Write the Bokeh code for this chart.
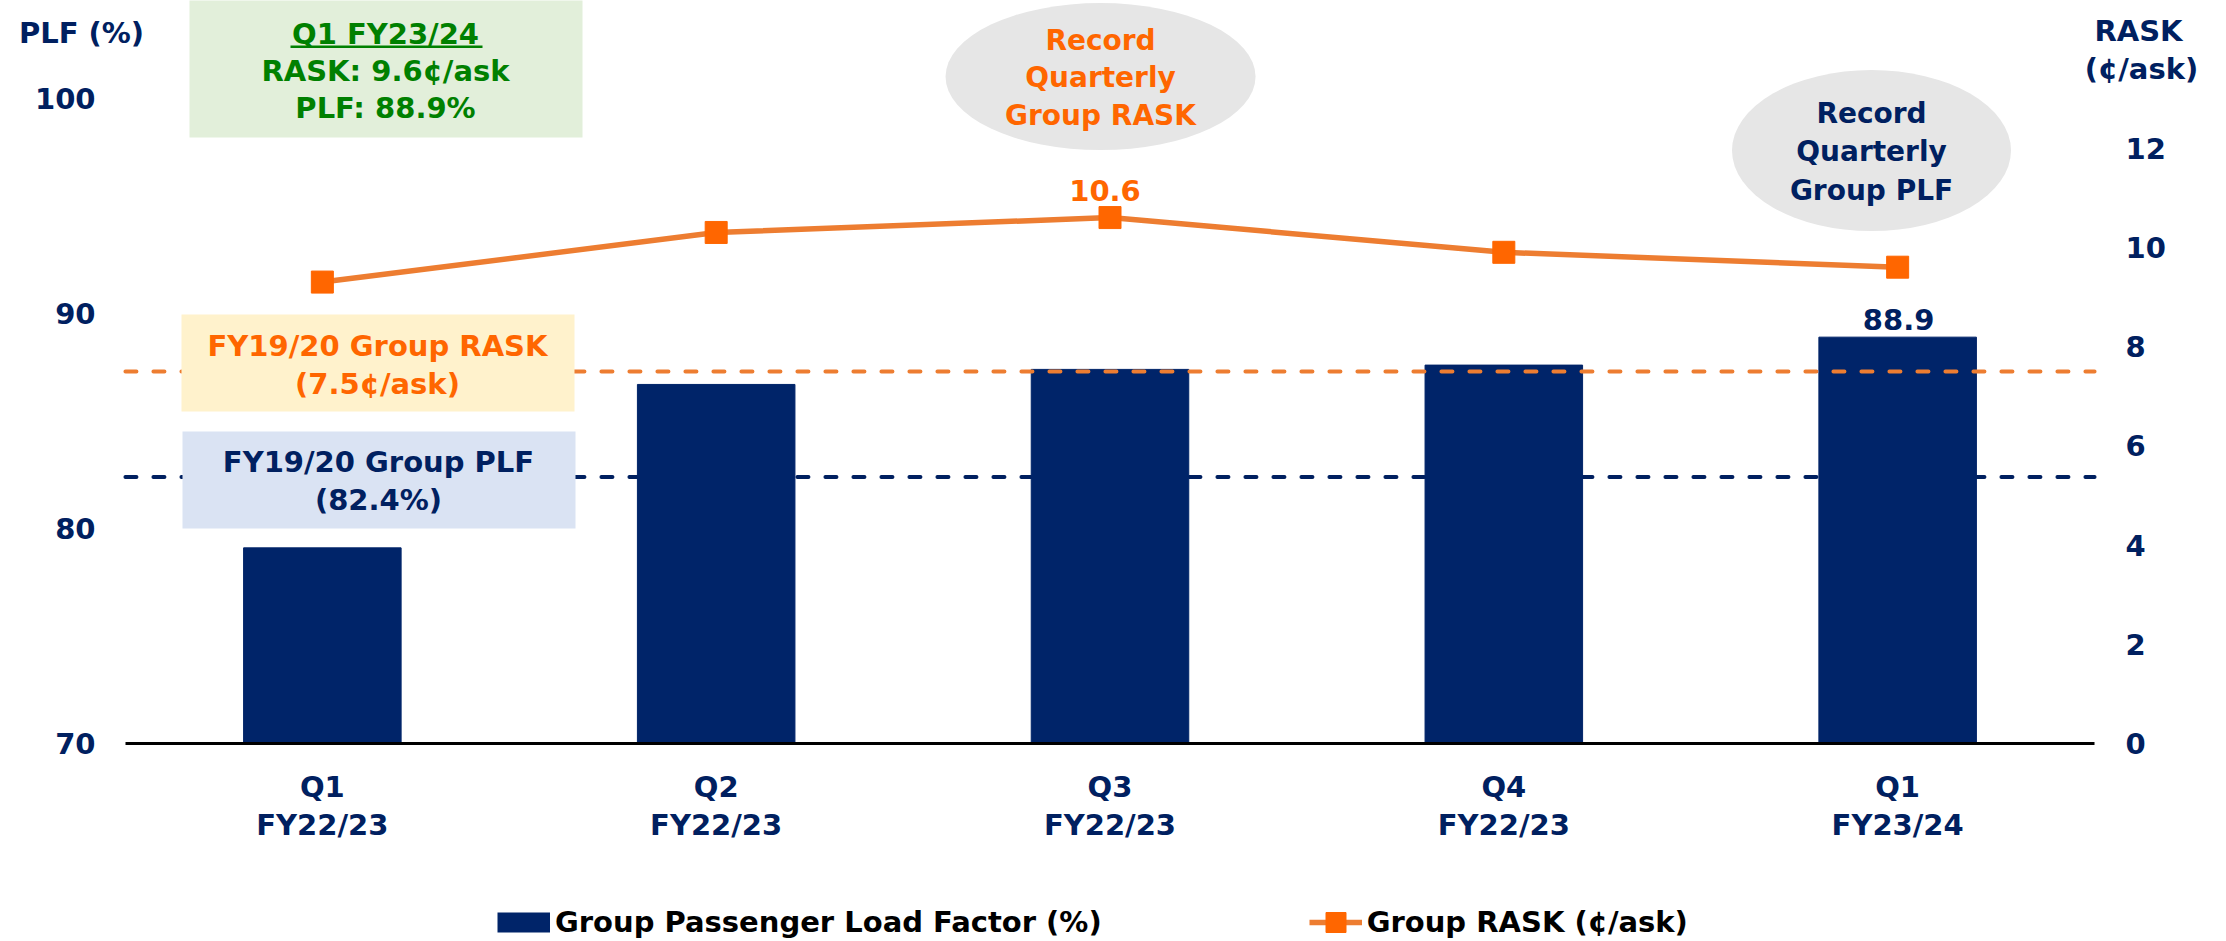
from bokeh.plotting import figure
from bokeh.layouts import column
from bokeh.models import (FactorRange, Range1d, LinearAxis, FixedTicker, Legend, LegendItem,
                          Label, BoxAnnotation, ColumnDataSource)
from bokeh.core.properties import value
from bokeh.embed import file_html
from bokeh.resources import INLINE

# ---------------- data ----------------
categories = ["Q1\nFY22/23", "Q2\nFY22/23", "Q3\nFY22/23", "Q4\nFY22/23", "Q1\nFY23/24"]
plf_values = [79.1, 86.7, 87.4, 87.6, 88.9]
rask_values = [9.3, 10.3, 10.6, 9.9, 9.6]
plf_baseline = 82.4
rask_baseline = 7.5
plf_ticks = [70, 80, 90, 100]
rask_ticks = [0, 2, 4, 6, 8, 10, 12]
plf_series_name = "Group Passenger Load Factor (%)"
rask_series_name = "Group RASK (¢/ask)"

# ---------------- style ----------------
NAVY = "#002469"
NAVY_TXT = "#002060"
ORANGE = "#FF6600"
ORANGE_LINE = "#ED7D31"
GREEN = "#008000"
FONT = "DejaVu Sans"
FS = "29px"

W = 2226
H1, H2 = 850, 91
FRAME_H = 743
px_per_plf = 645 / 30.0
px_per_rask = 645 / 13.0

p = figure(width=W, height=H1, output_backend="svg", toolbar_location=None, title=None,
           x_range=FactorRange(factors=categories, range_padding=0.1269,
                               range_padding_units="percent"),
           y_range=Range1d(70, 70 + FRAME_H / px_per_plf),
           min_border=0, min_border_left=0, min_border_right=7,
           min_border_bottom=H1 - FRAME_H, min_border_top=0)
p.extra_y_ranges = {"rask": Range1d(0, FRAME_H / px_per_rask)}
p.outline_line_color = None
p.xgrid.visible = False
p.ygrid.visible = False
p.background_fill_color = "white"
p.border_fill_color = "white"

# x axis (baseline limited to the category span)
xa = p.xaxis[0]
xa.bounds = (0, len(categories))
xa.axis_line_color = "black"
xa.axis_line_width = 3
xa.major_tick_line_color = None
xa.major_tick_out = 0
xa.major_tick_in = 0
xa.major_label_text_font = FONT
xa.major_label_text_font_style = "bold"
xa.major_label_text_font_size = FS
xa.major_label_text_color = NAVY_TXT
xa.major_label_text_line_height = 1.126
xa.major_label_standoff = 26


def style_y(ax, standoff):
    ax.axis_line_color = None
    ax.major_tick_line_color = None
    ax.minor_tick_line_color = None
    ax.major_tick_out = 0
    ax.major_tick_in = 0
    ax.major_label_text_font = FONT
    ax.major_label_text_font_style = "bold"
    ax.major_label_text_font_size = FS
    ax.major_label_text_color = NAVY_TXT
    ax.major_label_standoff = standoff


ya = p.yaxis[0]
ya.ticker = FixedTicker(ticks=plf_ticks)
style_y(ya, -95)

ra = LinearAxis(y_range_name="rask", ticker=FixedTicker(ticks=rask_ticks))
style_y(ra, -94)
p.add_layout(ra, "right")

n = len(categories)
# FY19/20 PLF reference (dashed, behind the bars)
p.segment(x0=[0], x1=[n], y0=[plf_baseline], y1=[plf_baseline], line_color=NAVY_TXT,
          line_width=4, line_dash="11 17", line_cap="round")

src = ColumnDataSource(dict(x=categories, plf=plf_values, rask=rask_values))
bars = p.vbar(x="x", top="plf", bottom=70, width=0.40, source=src,
              fill_color=NAVY, line_color=NAVY)

# FY19/20 RASK reference (dashed, over the bars)
p.segment(x0=[0], x1=[n], y0=[rask_baseline], y1=[rask_baseline], y_range_name="rask",
          line_color=ORANGE_LINE, line_width=4, line_dash="11 17", line_cap="round")

# RASK line
line_r = p.line(x="x", y="rask", source=src, y_range_name="rask",
                line_color=ORANGE_LINE, line_width=5.5)
mark_r = p.scatter(x="x", y="rask", source=src, y_range_name="rask", marker="square",
                   size=22, fill_color=ORANGE, line_color=ORANGE)

# value labels (Q3 RASK record, latest PLF)
src_r = ColumnDataSource(dict(x=[categories[2]], y=[rask_values[2]], t=[f"{rask_values[2]:.1f}"]))
p.text(x="x", y="y", text="t", source=src_r, y_range_name="rask",
       text_font=value(FONT), text_font_style="bold", text_font_size=FS,
       text_color=ORANGE, text_align="center", text_baseline="middle",
       x_offset=-5, y_offset=-27)
src_p = ColumnDataSource(dict(x=[categories[4]], y=[plf_values[4]], t=[f"{plf_values[4]:.1f}"]))
p.text(x="x", y="y", text="t", source=src_p,
       text_font=value(FONT), text_font_style="bold", text_font_size=FS,
       text_color=NAVY_TXT, text_align="center", text_baseline="middle",
       x_offset=1, y_offset=-18)

# "record" callout ellipses
p.ellipse(x=[2.476], y=[101.02], width=[310], height=[147], width_units="screen",
          height_units="screen", fill_color="#E6E6E6", line_color=None)
p.ellipse(x=[4.4336], y=[97.58], width=[279], height=[161], width_units="screen",
          height_units="screen", fill_color="#E6E6E6", line_color=None)


def lab(text, x, y, color, size=FS):
    p.add_layout(Label(x=x, y=y, x_units="screen", y_units="screen", text=text,
                       text_font=FONT, text_font_style="bold", text_font_size=size,
                       text_color=color, text_align="center", text_baseline="middle"))


def box(l, r, b, t, color):
    p.add_layout(BoxAnnotation(left=l, right=r, bottom=b, top=t, left_units="screen",
                               right_units="screen", bottom_units="screen", top_units="screen",
                               fill_color=color, fill_alpha=1.0, line_color=None))


# FY19/20 reference boxes
box(181, 574, 332, 429, "#FFF2CC")
lab("FY19/20 Group RASK", 377, 398, ORANGE)
lab("(7.5¢/ask)", 377, 360, ORANGE)
box(182, 575, 215, 312, "#DAE3F3")
lab("FY19/20 Group PLF", 378, 282, NAVY_TXT)
lab("(82.4%)", 378, 244, NAVY_TXT)

# green summary box
box(189, 582, 606, 745, "#E2EFDA")
lab("Q1 FY23/24", 385, 710, GREEN)
box(290, 482, 695.5, 698, GREEN)
lab("RASK: 9.6¢/ask", 385, 673, GREEN)
lab("PLF: 88.9%", 385, 636, GREEN)

# ellipse texts
ES = "28px"
lab("Record", 1100, 703, ORANGE, ES)
lab("Quarterly", 1100, 666, ORANGE, ES)
lab("Group RASK", 1100, 628, ORANGE, ES)
lab("Record", 1871, 630, NAVY_TXT, ES)
lab("Quarterly", 1871, 592, NAVY_TXT, ES)
lab("Group PLF", 1871, 553, NAVY_TXT, ES)

# axis titles
lab("PLF (%)", 81, 711, NAVY_TXT)
lab("RASK", 2138, 713, NAVY_TXT)
lab("(¢/ask)", 2141, 675, NAVY_TXT)

# ---------------- legend strip ----------------
q = figure(width=W, height=H2, output_backend="svg", toolbar_location=None, title=None,
           x_range=Range1d(0, 1), y_range=Range1d(0, 1),
           x_axis_location=None, y_axis_location=None, min_border=0)
q.outline_line_color = None
q.grid.visible = False
q.background_fill_color = "white"
q.border_fill_color = "white"
nan = float("nan")
# legend key proxies (not-a-number point: nothing is drawn in the strip itself)
k_bar = q.line(x=[nan], y=[nan], line_color=NAVY, line_width=20, line_cap="butt")
k_line = q.line(x=[nan], y=[nan], line_color=ORANGE_LINE, line_width=5.5)
k_mark = q.scatter(x=[nan], y=[nan], marker="square", size=22, fill_color=ORANGE,
                   line_color=ORANGE)
leg = Legend(items=[LegendItem(label=plf_series_name, renderers=[k_bar], index=0),
                    LegendItem(label=rask_series_name, renderers=[k_line, k_mark], index=0)],
             orientation="horizontal", location=(497, -6), glyph_width=53, glyph_height=50,
             label_standoff=5, spacing=207, padding=0, margin=0,
             border_line_color=None, background_fill_alpha=0,
             label_text_font=FONT, label_text_font_style="bold", label_text_font_size=FS,
             label_text_color="black")
q.add_layout(leg, "center")

layout = column(p, q, spacing=0)
open("out.html", "w").write(file_html(layout, INLINE))
